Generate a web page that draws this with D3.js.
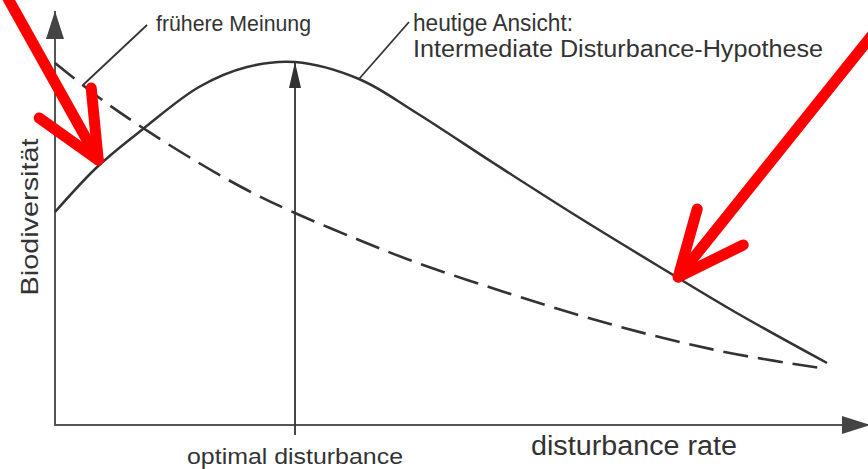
<!DOCTYPE html>
<html>
<head>
<meta charset="utf-8">
<script src="https://cdn.jsdelivr.net/npm/d3@7"></script>
<style>
  html, body { margin: 0; padding: 0; background: #fff; }
  svg { display: block; }
  text { font-family: "Liberation Sans", Arial, Helvetica, sans-serif; fill: #333; }
</style>
</head>
<body>
<svg id="chart" width="868" height="469"></svg>
<script>
// Disturbance rate (relative units) sampled along the x axis
const disturbance = [0, 5.4, 11, 18, 24, 30, 38, 45, 55, 65, 75, 85, 96.5];
// Current view: Intermediate Disturbance Hypothesis (hump-shaped)
const heutigeAnsicht = [53.25, 64.75, 74, 84.5, 89.5, 90.75, 86.5, 78.25, 65.25, 52.5, 40.25, 28.25, 15.5];
// Former opinion: biodiversity falls steadily with disturbance
const fruehereMeinung = [90.5, 82, 74.25, 65.5, 58.75, 53, 46.25, 40.75, 34, 27.75, 22.25, 17.75, 14];
// Disturbance level at which biodiversity peaks
const optimum = 30;

const labels = {
  y: "Biodiversität",
  x: "disturbance rate",
  optimum: "optimal disturbance",
  former: "frühere Meinung",
  currentLine1: "heutige Ansicht:",
  currentLine2: "Intermediate Disturbance-Hypothese"
};

const svg = d3.select("#chart");
const W = 868, H = 469;

const x = d3.scaleLinear().domain([0, 100]).range([55, 855]);
const y = d3.scaleLinear().domain([0, 100]).range([425, 25]);

const axisColor = "#555";
const inkColor = "#333";

// Arrowhead markers
const defs = svg.append("defs");
defs.append("marker")
  .attr("id", "axisHead")
  .attr("viewBox", "0 0 28 18")
  .attr("refX", 28).attr("refY", 9)
  .attr("markerWidth", 28).attr("markerHeight", 18)
  .attr("markerUnits", "userSpaceOnUse")
  .attr("orient", "auto")
  .append("path").attr("d", "M0,0 L28,9 L0,18 Z").attr("fill", "#444");
defs.append("marker")
  .attr("id", "optHead")
  .attr("viewBox", "0 0 26 12")
  .attr("refX", 26).attr("refY", 6)
  .attr("markerWidth", 26).attr("markerHeight", 12)
  .attr("markerUnits", "userSpaceOnUse")
  .attr("orient", "auto")
  .append("path").attr("d", "M0,0 L26,6 L0,12 Z").attr("fill", "#333");

// Axes: vertical biodiversity axis and horizontal disturbance axis
const x0 = x(0), y0 = y(0);
svg.append("line")
  .attr("x1", x0).attr("y1", y0 + 1)
  .attr("x2", x0).attr("y2", y(103.5))
  .attr("stroke", axisColor).attr("stroke-width", 2)
  .attr("marker-end", "url(#axisHead)");
svg.append("line")
  .attr("x1", x0 - 1).attr("y1", y0)
  .attr("x2", W + 2).attr("y2", y0)
  .attr("stroke", axisColor).attr("stroke-width", 2)
  .attr("marker-end", "url(#axisHead)");

// Curves
const line = d3.line()
  .x(d => x(d[0]))
  .y(d => y(d[1]))
  .curve(d3.curveCatmullRom.alpha(0.5));

const currentPts = disturbance.map((d, i) => [d, heutigeAnsicht[i]]);
const formerPts = disturbance.map((d, i) => [d, fruehereMeinung[i]]);

svg.append("path")
  .attr("d", line(formerPts))
  .attr("fill", "none")
  .attr("stroke", inkColor)
  .attr("stroke-width", 2.6)
  .attr("stroke-dasharray", "25,10");

svg.append("path")
  .attr("d", line(currentPts))
  .attr("fill", "none")
  .attr("stroke", inkColor)
  .attr("stroke-width", 2.5);

// Optimal disturbance marker arrow from below the axis up to the peak
const peak = d3.max(heutigeAnsicht);
svg.append("line")
  .attr("x1", x(optimum)).attr("y1", y0 + 10)
  .attr("x2", x(optimum)).attr("y2", y(peak))
  .attr("stroke", inkColor).attr("stroke-width", 1.8)
  .attr("marker-end", "url(#optHead)");

// Leader lines to the curve labels
svg.append("line")
  .attr("x1", x(3.5)).attr("y1", y(85))
  .attr("x2", 147).attr("y2", 25)
  .attr("stroke", inkColor).attr("stroke-width", 1.8);
svg.append("line")
  .attr("x1", x(38)).attr("y1", y(86.5))
  .attr("x2", 409).attr("y2", 22)
  .attr("stroke", inkColor).attr("stroke-width", 1.8);

// Text labels (widths fitted to the drawing's lettering)
function label(txt, xPos, yPos, size, width, anchor, transform) {
  const t = svg.append("text")
    .attr("font-size", size)
    .attr("textLength", width)
    .attr("lengthAdjust", "spacingAndGlyphs")
    .attr("text-anchor", anchor || "start")
    .text(txt);
  if (transform) t.attr("transform", transform);
  else t.attr("x", xPos).attr("y", yPos);
  return t;
}

label(labels.former, 156, 31, 22, 155);
label(labels.currentLine1, 413, 31, 23, 160);
label(labels.currentLine2, 413, 57, 23, 410);
label(labels.y, 0, 0, 24, 157, "middle", "translate(38,217) rotate(-90)");
label(labels.optimum, x(optimum), 464, 22, 216, "middle");
label(labels.x, 634, 455, 27, 206, "middle");

// Red highlight arrows pointing at the hump curve
const highlights = [
  { tip: [5.4, 66.25], tail: [-95, -170], wings: [[-59, -42], [-7, -72]] },
  { tip: [77.9, 37], tail: [202, -252], wings: [[19, -68], [65, -32]] }
];
highlights.forEach(h => {
  const tx = x(h.tip[0]), ty = y(h.tip[1]);
  const g = svg.append("g")
    .attr("fill", "none")
    .attr("stroke", "#ff0000")
    .attr("stroke-width", 11)
    .attr("stroke-linecap", "round")
    .attr("stroke-linejoin", "round");
  g.append("path")
    .attr("d", `M${tx + h.tail[0]},${ty + h.tail[1]} L${tx},${ty}`);
  g.append("path")
    .attr("d", `M${tx + h.wings[0][0]},${ty + h.wings[0][1]} L${tx},${ty} L${tx + h.wings[1][0]},${ty + h.wings[1][1]}`);
});
</script>
</body>
</html>
